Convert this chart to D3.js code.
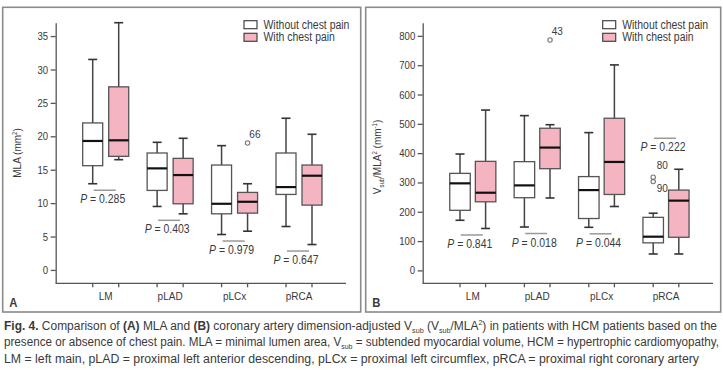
<!DOCTYPE html>
<html>
<head>
<meta charset="utf-8">
<script src="https://cdn.jsdelivr.net/npm/d3@7/dist/d3.min.js"></script>
<style>
  body { margin: 0; background: #fff; }
  svg text { font-family: "Liberation Sans", Arial, sans-serif; fill: #3a3a3a; }
</style>
</head>
<body>
<div id="chart"></div>
<script>
// categories and groups
var cats = ["LM", "pLAD", "pLCx", "pRCA"];
var groups = ["Without chest pain", "With chest pain"];

// box stats per category: [low whisker, Q1, median, Q3, high whisker]
var mlaWithout = [[12.9, 15.6, 19.3, 22.0, 31.5], [9.5, 11.9, 15.2, 17.5, 19.1], [5.3, 8.4, 9.9, 15.7, 18.6], [6.5, 11.3, 12.4, 17.5, 22.7]];
var mlaWith = [[16.5, 17.0, 19.4, 27.4, 37.0], [8.4, 9.9, 14.2, 16.7, 19.7], [5.8, 8.5, 10.2, 11.6, 12.9], [3.8, 9.7, 14.1, 15.7, 20.3]];
var mlaP = ["0.285", "0.403", "0.979", "0.647"];
var mlaOutliers = [{ cat: "pLCx", group: 1, value: 19.0, id: "66" }];
var mlaTicks = [0, 5, 10, 15, 20, 25, 30, 35];

var vsubWithout = [[171, 205, 297, 331, 397], [148, 248, 290, 371, 528], [147, 177, 274, 320, 470], [56, 94, 115, 181, 195]];
var vsubWith = [[143, 234, 265, 372, 547], [247, 347, 419, 485, 497], [218, 259, 370, 519, 701], [56, 113, 238, 274, 345]];
var vsubP = ["0.841", "0.018", "0.044", "0.222"];
var vsubPSide = ["below", "below", "below", "above"];
var vsubOutliers = [
    { cat: "pLAD", group: 1, value: 786, id: "43" },
    { cat: "pRCA", group: 0, value: 318, id: "80" },
    { cat: "pRCA", group: 0, value: 303, id: "90" }
];
var vsubTicks = [0, 100, 200, 300, 400, 500, 600, 700, 800];

var fills = ["#ffffff", "#f4b4c1"];

var svg = d3.select("#chart").append("svg")
    .attr("width", 723)
    .attr("height", 370);

// rich text helper: segments with optional sub/sup/bold/italic
function rich(sel, segs, size) {
    var shift = 0;
    segs.forEach(function (s) {
        var t = sel.append("tspan").text(s.t);
        var target = 0;
        if (s.sub) { target = size * 0.25; t.style("font-size", (size * 0.6) + "px"); }
        if (s.sup) { target = -size * 0.38; t.style("font-size", (size * 0.6) + "px"); }
        if (target !== shift) { t.attr("dy", target - shift); shift = target; }
        if (s.b) t.style("font-weight", "bold");
        if (s.i) t.style("font-style", "italic");
    });
}

function drawPanel(cfg) {
    var g = svg.append("g");

    // frame
    g.append("rect")
        .attr("x", cfg.frame[0]).attr("y", 7.3)
        .attr("width", cfg.frame[1] - cfg.frame[0]).attr("height", 304.7)
        .attr("fill", "none").attr("stroke", "#8a8a8a").attr("stroke-width", 1.6);

    var x = d3.scalePoint().domain(cats).range(cfg.xRange);
    var y = d3.scaleLinear().domain(cfg.yDomain).range([283.3, 22.7]);
    var off = cfg.offset;
    var bw = cfg.boxWidth;
    var pos = function (c, gi) { return x(c) + (gi === 0 ? -off : off); };

    // y axis
    var yAxis = g.append("g")
        .attr("transform", "translate(" + cfg.axisLeft + ",0)")
        .call(d3.axisLeft(y).tickValues(cfg.ticks).tickSize(5).tickSizeOuter(0).tickPadding(2.5));
    yAxis.selectAll("path, line").attr("stroke", "#555").attr("stroke-width", 1.3);
    yAxis.selectAll("text")
        .style("font-size", "11px")
        .style("font-family", '"Liberation Sans", Arial, sans-serif')
        .attr("fill", "#3a3a3a");

    // x axis line and ticks at each box position
    g.append("line")
        .attr("x1", cfg.axisLeft).attr("x2", cfg.axisRight)
        .attr("y1", y.range()[0]).attr("y2", y.range()[0])
        .attr("stroke", "#555").attr("stroke-width", 1.3);
    cats.forEach(function (c) {
        [0, 1].forEach(function (gi) {
            g.append("line")
                .attr("x1", pos(c, gi)).attr("x2", pos(c, gi))
                .attr("y1", y.range()[0]).attr("y2", y.range()[0] + 4)
                .attr("stroke", "#555").attr("stroke-width", 1.3);
        });
        g.append("text")
            .attr("x", x(c)).attr("y", 300)
            .attr("text-anchor", "middle")
            .style("font-size", "11.5px")
            .text(c);
    });

    // boxes
    [cfg.without, cfg.with].forEach(function (series, gi) {
        series.forEach(function (d, i) {
            var cx = pos(cats[i], gi);
            var bg = g.append("g");
            bg.append("line")
                .attr("x1", cx).attr("x2", cx)
                .attr("y1", y(d[0])).attr("y2", y(d[4]))
                .attr("stroke", "#444").attr("stroke-width", 1.5);
            [d[0], d[4]].forEach(function (v) {
                bg.append("line")
                    .attr("x1", cx - 4.5).attr("x2", cx + 4.5)
                    .attr("y1", y(v)).attr("y2", y(v))
                    .attr("stroke", "#333").attr("stroke-width", 1.6);
            });
            bg.append("rect")
                .attr("x", cx - bw / 2).attr("width", bw)
                .attr("y", y(d[3])).attr("height", y(d[1]) - y(d[3]))
                .attr("fill", fills[gi]).attr("stroke", "#555").attr("stroke-width", 1.3);
            bg.append("line")
                .attr("x1", cx - bw / 2).attr("x2", cx + bw / 2)
                .attr("y1", y(d[2])).attr("y2", y(d[2]))
                .attr("stroke", "#111").attr("stroke-width", 2.2);
        });
    });

    // outliers
    cfg.outliers.forEach(function (o) {
        var cx = pos(o.cat, o.group);
        var same = cfg.outliers.filter(function (p) { return p.cat === o.cat && p.group === o.group; });
        var highest = d3.max(same, function (p) { return p.value; }) === o.value;
        var dy = highest ? (same.length > 1 ? -8 : -5) : 10.5;
        g.append("circle")
            .attr("cx", cx).attr("cy", y(o.value)).attr("r", 2.2)
            .attr("fill", "#fff").attr("stroke", "#777").attr("stroke-width", 1.1);
        g.append("text")
            .attr("x", cx + (same.length > 1 ? 3.5 : 1.8)).attr("y", y(o.value) + dy)
            .style("font-size", "11.5px")
            .text(o.id);
    });

    // P values
    cfg.p.forEach(function (pv, i) {
        var cx = x(cats[i]);
        var lo = Math.min(cfg.without[i][0], cfg.with[i][0]);
        var hi = Math.max(cfg.without[i][4], cfg.with[i][4]);
        var ly = (cfg.pSide && cfg.pSide[i] === "above") ? y(hi) - 31 : y(lo) + 6.5;
        g.append("line")
            .attr("x1", cx - 12).attr("x2", cx + 10)
            .attr("y1", ly).attr("y2", ly)
            .attr("stroke", "#999").attr("stroke-width", 1.5);
        var t = g.append("text")
            .attr("x", cx - 3).attr("y", ly + 13)
            .attr("text-anchor", "middle")
            .style("font-size", "12px");
        rich(t, [{ t: "P", i: true }, { t: " = " + pv }], 12);
    });

    // legend
    groups.forEach(function (name, gi) {
        var ly = 20.7 + gi * 12.6;
        g.append("rect")
            .attr("x", cfg.legendX).attr("y", ly)
            .attr("width", 13).attr("height", 8)
            .attr("fill", fills[gi]).attr("stroke", "#444").attr("stroke-width", 1.2);
        g.append("text")
            .attr("x", cfg.legendX + 19.5).attr("y", ly + 8)
            .style("font-size", "12px")
            .text(name);
    });

    // y label
    var yl = g.append("text")
        .attr("transform", "translate(" + cfg.yLabel[0] + "," + cfg.yLabel[1] + ") rotate(-90)")
        .attr("text-anchor", "middle")
        .style("font-size", "11.5px");
    rich(yl, cfg.yLabelSegs, 11.5);

    // panel letter
    g.append("text")
        .attr("x", cfg.frame[0] + 6.5).attr("y", 306.5)
        .style("font-size", "13px").style("font-weight", "bold")
        .attr("fill", "#222")
        .text(cfg.letter);
}

drawPanel({
    frame: [2.7, 360.7], letter: "A",
    xRange: [105.7, 299], offset: 13, boxWidth: 20,
    axisLeft: 55.7, axisRight: 346,
    yDomain: [-2, 37], ticks: mlaTicks,
    without: mlaWithout, with: mlaWith, p: mlaP, outliers: mlaOutliers,
    legendX: 244, yLabel: [21, 153],
    yLabelSegs: [{ t: "MLA (mm" }, { t: "2", sup: true }, { t: ")" }]
});

drawPanel({
    frame: [365.7, 720.7], letter: "B",
    xRange: [472.8, 666], offset: 12.8, boxWidth: 20.5,
    axisLeft: 422.7, axisRight: 713,
    yDomain: [-44, 845], ticks: vsubTicks,
    without: vsubWithout, with: vsubWith, p: vsubP, pSide: vsubPSide, outliers: vsubOutliers,
    legendX: 602.7, yLabel: [381, 157],
    yLabelSegs: [{ t: "V" }, { t: "sub", sub: true }, { t: "/MLA" }, { t: "2", sup: true }, { t: " (mm" }, { t: "-1", sup: true }, { t: ")" }]
});

// condensed look: squeeze every chart text
svg.selectAll("text").each(function () {
    var w = this.getComputedTextLength();
    d3.select(this).attr("textLength", w * 0.87).attr("lengthAdjust", "spacingAndGlyphs");
});

// caption
var caption = [
    [{ t: "Fig. 4.", b: true }, { t: " Comparison of " }, { t: "(A)", b: true }, { t: " MLA and " }, { t: "(B)", b: true },
     { t: " coronary artery dimension-adjusted V" }, { t: "sub", sub: true }, { t: " (V" }, { t: "sub", sub: true },
     { t: "/MLA" }, { t: "2", sup: true }, { t: ") in patients with HCM patients based on the" }],
    [{ t: "presence or absence of chest pain. MLA = minimal lumen area, V" }, { t: "sub", sub: true },
     { t: " = subtended myocardial volume, HCM = hypertrophic cardiomyopathy," }],
    [{ t: "LM = left main, pLAD = proximal left anterior descending, pLCx = proximal left circumflex, pRCA = proximal right coronary artery" }]
];
var capWidths = [713, 715, 695];
caption.forEach(function (segs, i) {
    var t = svg.append("text")
        .attr("x", 4).attr("y", 330 + i * 16.3)
        .style("font-size", "12px")
        .attr("fill", "#2a2a2a");
    rich(t, segs, 12);
    t.attr("textLength", capWidths[i]).attr("lengthAdjust", "spacingAndGlyphs");
});
</script>
</body>
</html>
